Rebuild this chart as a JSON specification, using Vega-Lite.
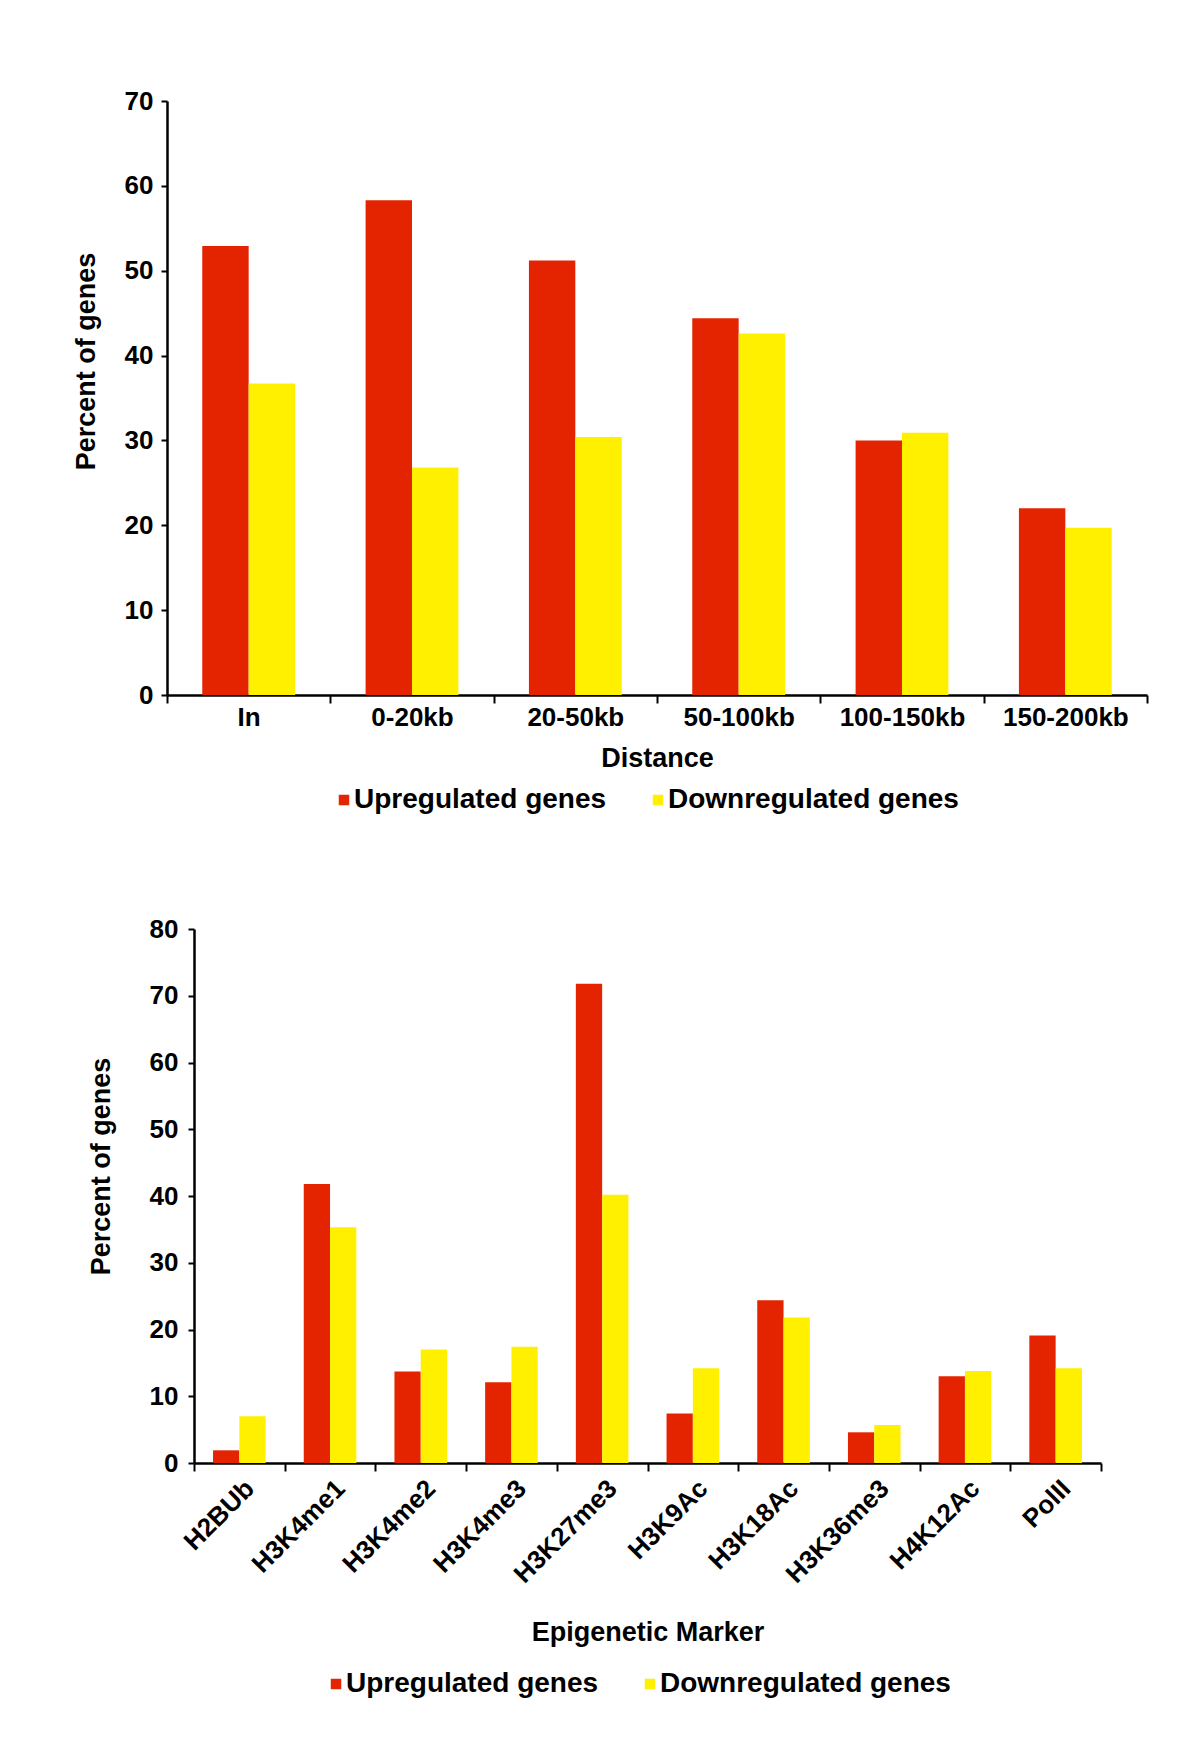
{
  "$schema": "https://vega.github.io/schema/vega-lite/v6.json",
  "background": "white",
  "padding": {"left": 72, "top": 88, "right": 20, "bottom": 20},
  "spacing": 102,
  "config": {
    "view": {"stroke": null},
    "font": "Liberation Sans",
    "axis": {
      "domainColor": "black", "domainWidth": 2.5, "tickColor": "black", "tickWidth": 2,
      "labelColor": "black", "labelFont": "Liberation Sans", "labelFontSize": 26, "labelFontWeight": "bold",
      "titleColor": "black", "titleFont": "Liberation Sans", "titleFontSize": 27, "titleFontWeight": "bold",
      "grid": false
    },
    "legend": {
      "labelFont": "Liberation Sans", "labelFontSize": 28, "labelFontWeight": "bold", "labelColor": "black",
      "labelLimit": 400, "symbolType": "square", "symbolSize": 110, "symbolStrokeWidth": 0,
      "columnPadding": 37, "labelOffset": -4, "direction": "horizontal", "orient": "none"
    }
  },
  "resolve": {"scale": {"color": "independent", "xOffset": "independent", "x": "independent", "y": "independent"}, "legend": {"color": "independent"}},
  "vconcat": [
    {
      "width": 980,
      "height": 594,
      "data": {"values": [
        {"distance": "In", "group": "Upregulated genes", "value": 52.9},
        {"distance": "In", "group": "Downregulated genes", "value": 36.7},
        {"distance": "0-20kb", "group": "Upregulated genes", "value": 58.3},
        {"distance": "0-20kb", "group": "Downregulated genes", "value": 26.8},
        {"distance": "20-50kb", "group": "Upregulated genes", "value": 51.2},
        {"distance": "20-50kb", "group": "Downregulated genes", "value": 30.4},
        {"distance": "50-100kb", "group": "Upregulated genes", "value": 44.4},
        {"distance": "50-100kb", "group": "Downregulated genes", "value": 42.6},
        {"distance": "100-150kb", "group": "Upregulated genes", "value": 30.0},
        {"distance": "100-150kb", "group": "Downregulated genes", "value": 30.9},
        {"distance": "150-200kb", "group": "Upregulated genes", "value": 22.0},
        {"distance": "150-200kb", "group": "Downregulated genes", "value": 19.7}
      ]},
      "mark": {"type": "bar"},
      "encoding": {
        "x": {
          "field": "distance", "type": "nominal",
          "sort": ["In", "0-20kb", "20-50kb", "50-100kb", "100-150kb", "150-200kb"],
          "scale": {"paddingInner": 0, "paddingOuter": 0},
          "axis": {"title": "Distance", "labelAngle": 0, "tickBand": "extent", "tickSize": 8, "labelPadding": 1, "titlePadding": 15}
        },
        "xOffset": {
          "field": "group", "type": "nominal",
          "sort": ["Upregulated genes", "Downregulated genes"],
          "scale": {"paddingInner": 0, "paddingOuter": 0.76}
        },
        "y": {
          "field": "value", "type": "quantitative",
          "scale": {"domain": [0, 70], "nice": false},
          "axis": {"title": "Percent of genes", "values": [0, 10, 20, 30, 40, 50, 60, 70], "tickSize": 6, "labelPadding": 8, "titlePadding": 24, "titleY": 260}
        },
        "color": {
          "field": "group", "type": "nominal",
          "sort": ["Upregulated genes", "Downregulated genes"],
          "scale": {"domain": ["Upregulated genes", "Downregulated genes"], "range": ["#E42400", "#FFF000"]},
          "legend": {"title": null, "legendX": 163, "legendY": 685}
        }
      }
    },
    {
      "width": 934,
      "height": 534,
      "data": {"values": [
        {"marker": "H2BUb", "group": "Upregulated genes", "value": 1.9},
        {"marker": "H2BUb", "group": "Downregulated genes", "value": 7.0},
        {"marker": "H3K4me1", "group": "Upregulated genes", "value": 41.8},
        {"marker": "H3K4me1", "group": "Downregulated genes", "value": 35.3},
        {"marker": "H3K4me2", "group": "Upregulated genes", "value": 13.7},
        {"marker": "H3K4me2", "group": "Downregulated genes", "value": 17.0},
        {"marker": "H3K4me3", "group": "Upregulated genes", "value": 12.1},
        {"marker": "H3K4me3", "group": "Downregulated genes", "value": 17.4},
        {"marker": "H3K27me3", "group": "Upregulated genes", "value": 71.8},
        {"marker": "H3K27me3", "group": "Downregulated genes", "value": 40.2},
        {"marker": "H3K9Ac", "group": "Upregulated genes", "value": 7.4},
        {"marker": "H3K9Ac", "group": "Downregulated genes", "value": 14.2},
        {"marker": "H3K18Ac", "group": "Upregulated genes", "value": 24.4},
        {"marker": "H3K18Ac", "group": "Downregulated genes", "value": 21.8},
        {"marker": "H3K36me3", "group": "Upregulated genes", "value": 4.6},
        {"marker": "H3K36me3", "group": "Downregulated genes", "value": 5.7},
        {"marker": "H4K12Ac", "group": "Upregulated genes", "value": 13.0},
        {"marker": "H4K12Ac", "group": "Downregulated genes", "value": 13.8},
        {"marker": "PolII", "group": "Upregulated genes", "value": 19.1},
        {"marker": "PolII", "group": "Downregulated genes", "value": 14.2}
      ]},
      "mark": {"type": "bar"},
      "encoding": {
        "x": {
          "field": "marker", "type": "nominal",
          "sort": ["H2BUb", "H3K4me1", "H3K4me2", "H3K4me3", "H3K27me3", "H3K9Ac", "H3K18Ac", "H3K36me3", "H4K12Ac", "PolII"],
          "scale": {"paddingInner": 0, "paddingOuter": 0, "range": [27, 934]},
          "axis": {"title": "Epigenetic Marker", "labelAngle": -45, "labelOffset": 1, "tickBand": "extent", "tickSize": 8, "labelPadding": 4, "titlePadding": 32}
        },
        "xOffset": {
          "field": "group", "type": "nominal",
          "sort": ["Upregulated genes", "Downregulated genes"],
          "scale": {"paddingInner": 0, "paddingOuter": 0.724}
        },
        "y": {
          "field": "value", "type": "quantitative",
          "scale": {"domain": [0, 80], "nice": false},
          "axis": {"title": "Percent of genes", "offset": -27, "values": [0, 10, 20, 30, 40, 50, 60, 70, 80], "tickSize": 6, "labelPadding": 10, "titlePadding": 34, "titleY": 237}
        },
        "color": {
          "field": "group", "type": "nominal",
          "sort": ["Upregulated genes", "Downregulated genes"],
          "scale": {"domain": ["Upregulated genes", "Downregulated genes"], "range": ["#E42400", "#FFF000"]},
          "legend": {"title": null, "legendX": 155, "legendY": 741}
        }
      }
    }
  ]
}
